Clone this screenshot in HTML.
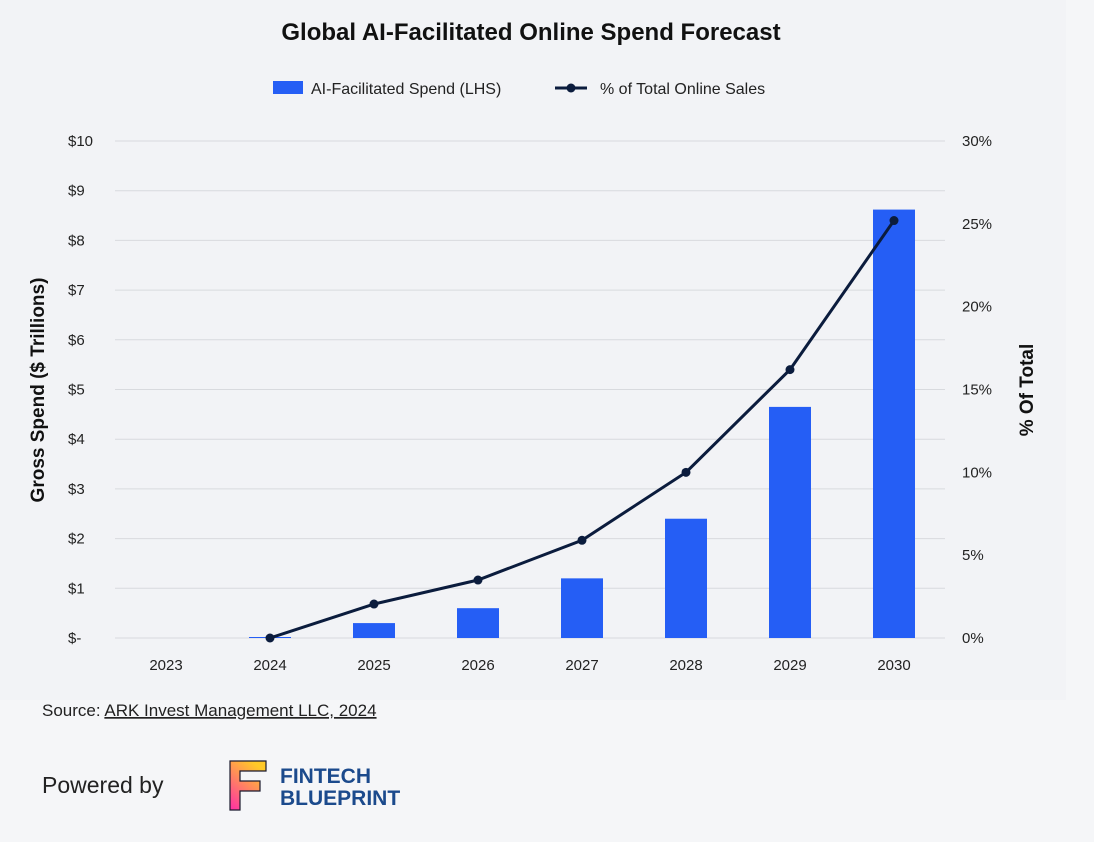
<!DOCTYPE html>
<html><head><meta charset="utf-8"><style>
body{margin:0;width:1094px;height:842px;background:#f5f6f8;font-family:"Liberation Sans",sans-serif;overflow:hidden}
svg{position:absolute;left:0;top:0}
</style></head><body>
<svg width="1094" height="842">
<rect x="0" y="0" width="1066" height="700" fill="#f2f3f6"/>
<text x="531" y="40" text-anchor="middle" font-size="24" font-weight="bold" fill="#111">Global AI-Facilitated Online Spend Forecast</text>
<g>
<rect x="273" y="81" width="30" height="13" fill="#255ef5"/>
<text x="311" y="94" font-size="16" fill="#222">AI-Facilitated Spend (LHS)</text>
<line x1="555" y1="88" x2="587" y2="88" stroke="#0b1c3d" stroke-width="3"/>
<circle cx="571" cy="88" r="4.5" fill="#0b1c3d"/>
<text x="600" y="94" font-size="16" fill="#222">% of Total Online Sales</text>
</g>
<g id="grid"></g><g id="bars"></g><g id="line"></g><g id="axes"></g>
<text transform="translate(44,390) rotate(-90)" text-anchor="middle" font-size="19" font-weight="bold" fill="#111">Gross Spend ($ Trillions)</text>
<text transform="translate(1033,390) rotate(-90)" text-anchor="middle" font-size="19" font-weight="bold" fill="#111">% Of Total</text>
<text x="42" y="716" font-size="17" fill="#222">Source: <tspan text-decoration="underline">ARK Invest Management LLC, 2024</tspan></text>
<text x="42" y="793" font-size="23" fill="#222">Powered by</text>
<g>
<defs><linearGradient id="lg" x1="0" y1="1" x2="0.6" y2="0"><stop offset="0" stop-color="#ff2ea6"/><stop offset="1" stop-color="#ffc928"/></linearGradient></defs>
<path d="M230 761h36v10h-26v10h20v10h-20v19h-10z" fill="url(#lg)" stroke="#1a1a2e" stroke-width="1.2"/>
<text x="280" y="783" font-size="21" font-weight="bold" fill="#1b4a8c">FINTECH</text>
<text x="280" y="805" font-size="21" font-weight="bold" fill="#1b4a8c">BLUEPRINT</text>
</g>
</svg>
<script>
const years=['2023','2024','2025','2026','2027','2028','2029','2030'];
const spend=[0,0.02,0.3,0.6,1.2,2.4,4.65,8.62];
const pct=[null,0,2.05,3.5,5.9,10,16.2,25.2];
const leftTicks=['$-','$1','$2','$3','$4','$5','$6','$7','$8','$9','$10'];
const rightTicks=['0%','5%','10%','15%','20%','25%','30%'];
const NS='http://www.w3.org/2000/svg';
const y0=638,y1=141,x0=166,step=104;
const yL=v=>y0-(v/10)*(y0-y1);
const yR=v=>y0-(v/30)*(y0-y1);
const xS=i=>x0+i*step;
function mk(t,a,p){const e=document.createElementNS(NS,t);for(const k in a)e.setAttribute(k,a[k]);p.appendChild(e);return e;}
const grid=document.getElementById('grid'),bars=document.getElementById('bars'),line=document.getElementById('line'),axes=document.getElementById('axes');
leftTicks.forEach((t,i)=>{
 const g=mk('line',{x1:115,x2:945,y1:yL(i),y2:yL(i),stroke:'#d8dade','stroke-width':1},grid);
 
 
 const tx=mk('text',{x:68,y:yL(i)+5,'font-size':15,fill:'#222'},axes);tx.textContent=t;
 
 
});
rightTicks.forEach((t,i)=>{
 const tx=mk('text',{x:962,y:yR(i*5)+5,'font-size':15,fill:'#222'},axes);tx.textContent=t;
 
 
});
years.forEach((y,i)=>{
 const tx=mk('text',{x:xS(i),y:670,'font-size':15,fill:'#222','text-anchor':'middle'},axes);tx.textContent=y;
 
 
 const v=spend[i];
 if(v>0){const h=Math.max(1,y0-yL(v));
 const r=mk('rect',{x:xS(i)-21,y:y0-h,width:42,height:h,fill:'#255ef5'},bars);
 
 }
});
let d='';pct.forEach((p,i)=>{if(p===null)return;d+=(d?'L':'M')+xS(i)+' '+yR(p);});
const pl=mk('path',{d:d,fill:'none',stroke:'#0b1c3d','stroke-width':3},line);


pct.forEach((p,i)=>{if(p===null)return;
 const c=mk('circle',{cx:xS(i),cy:yR(p),r:4.5,fill:'#0b1c3d'},line);
 
 });
</script>
</body></html>
